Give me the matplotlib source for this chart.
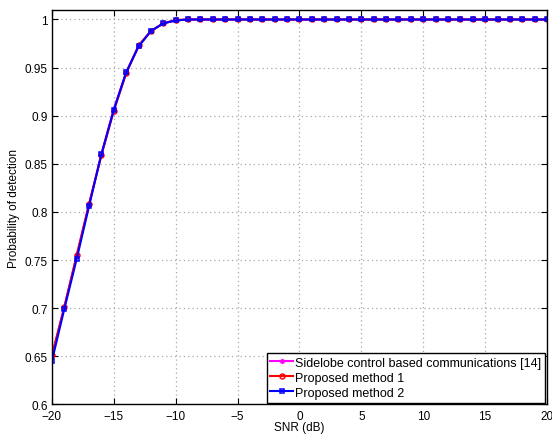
import matplotlib.pyplot as plt
import numpy as np

plt.rcParams['font.family'] = ['Liberation Sans', 'DejaVu Sans']

snr = np.arange(-20, 21, 1)

# probability of detection vs SNR, one value per dB step
pd_sidelobe = [0.650, 0.701, 0.754, 0.808, 0.860, 0.907, 0.945, 0.972, 0.988, 0.996, 0.999] + [1.0] * 30
pd_method1 = [0.651, 0.701, 0.755, 0.808, 0.859, 0.905, 0.944, 0.973, 0.988, 0.996, 0.9995] + [1.0] * 30
pd_method2 = [0.645, 0.699, 0.751, 0.806, 0.860, 0.906, 0.945, 0.972, 0.988, 0.996, 0.999] + [1.0] * 30

fig = plt.figure(figsize=(5.52, 4.35), dpi=100)
ax = fig.add_axes([0.094, 0.068, 0.897, 0.907])

ax.plot(snr, pd_sidelobe, color='magenta', marker='.', markersize=5, linewidth=1.5,
        label='Sidelobe control based communications [14]')
ax.plot(snr, pd_method1, color='red', marker='o', markersize=3.5, markerfacecolor='none',
        markeredgewidth=1.1, linewidth=1.5, label='Proposed method 1')
ax.plot(snr, pd_method2, color='blue', marker='s', markersize=3.2, markerfacecolor='none',
        markeredgewidth=1.1, linewidth=1.5, label='Proposed method 2')

ax.set_xlim(-20, 20)
ax.set_ylim(0.6, 1.01)
ax.set_xticks(np.arange(-20, 21, 5))
ax.set_xticklabels(['\u221220', '\u221215', '\u221210', '\u22125', '0', '5', '10', '15', '20'])
ax.set_yticks(np.arange(0.6, 1.001, 0.05))
ax.set_yticklabels(['0.6', '0.65', '0.7', '0.75', '0.8', '0.85', '0.9', '0.95', '1'])
ax.grid(True, linestyle=(0, (1, 2.5)), color='#a8a8a8', linewidth=0.9)
ax.tick_params(direction='in', top=True, right=True, labelsize=8.5, length=4)
ax.tick_params(axis='x', pad=4)
ax.tick_params(axis='y', pad=3)
for s in ax.spines.values():
    s.set_linewidth(1.0)

ax.set_xlabel('SNR (dB)', fontsize=8.5, labelpad=-1)
ax.set_ylabel('Probability of detection', fontsize=8.5, labelpad=3)

leg = ax.legend(loc='lower right', fontsize=9, fancybox=False, framealpha=1,
                edgecolor='black', borderaxespad=0.15, handlelength=1.8,
                handletextpad=0.2, labelspacing=0.25, borderpad=0.3)
leg.get_frame().set_linewidth(1.0)

fig.savefig('out.png', dpi=100)
